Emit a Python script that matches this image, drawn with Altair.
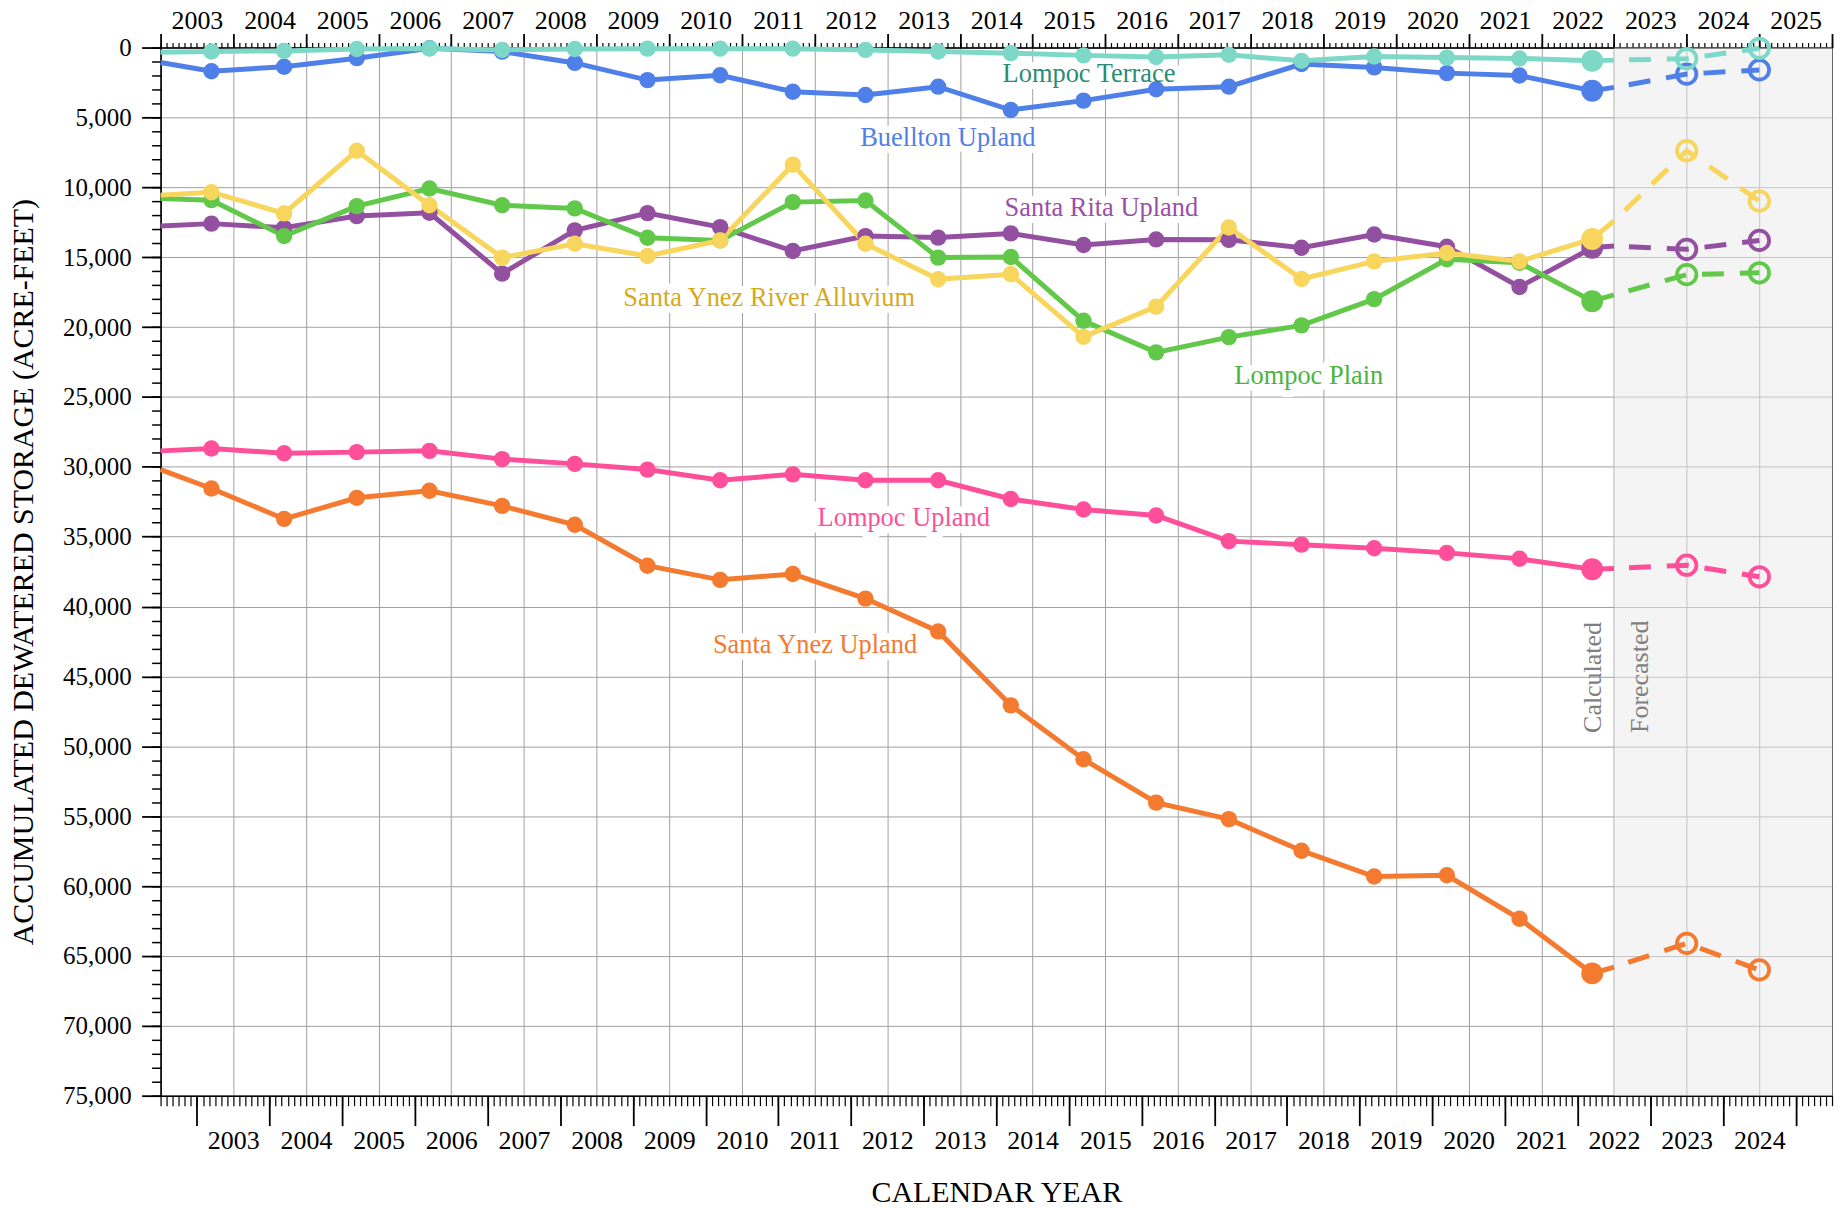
import altair as alt
import pandas as pd

SERIF = "Liberation Serif"

# ---------------- data ----------------
SERIES = ["Santa Ynez Upland", "Lompoc Upland", "Santa Rita Upland", "Lompoc Plain",
          "Santa Ynez River Alluvium", "Buellton Upland", "Lompoc Terrace"]
LINE_COLORS = ["#f47a30", "#ff4f9a", "#9450a0", "#62c84a", "#f8d55c", "#4f7fe8", "#7dd8c8"]
LABEL_COLORS = ["#f47a30", "#ff4f9a", "#9b4fa5", "#4cb43a", "#d4aa1c", "#4f7fe8", "#2a8c72"]

CALC_YEARS = list(range(2003, 2023))
MEASURE_OFFSET = 0.7          # annual values are computed late in each year
PERIOD_START = 2003.0
FORECAST_START = 2023.0
FORECAST_X = [2024.0, 2025.0]
DOMAIN_END = 2026.0

# value where each record line starts (left edge)
START_VALUES = [30200, 28860, 12770, 10800, 10560, 1070, 330]

# calculated accumulated dewatered storage, 2003..2022 (acre-feet)
SANTA_YNEZ_UPLAND = [31550, 33730, 32220, 31710, 32800, 34150, 37080, 38090, 37670, 39430,
                     41780, 47070, 50930, 54030, 55210, 57470, 59320, 59230, 62340, 66250]
LOMPOC_UPLAND = [28690, 29030, 28950, 28860, 29450, 29790, 30200, 30960, 30540, 30960,
                 30960, 32300, 33060, 33480, 35320, 35570, 35830, 36160, 36580, 37330]
SANTA_RITA_UPLAND = [12600, 12900, 12060, 11820, 16180, 13080, 11850, 12850, 14560, 13490,
                     13600, 13300, 14130, 13730, 13760, 14330, 13380, 14250, 17130, 14330]
LOMPOC_PLAIN = [10920, 13490, 11350, 10090, 11280, 11510, 13610, 13800, 11060, 10940,
                15030, 14990, 19550, 21810, 20720, 19880, 18000, 15150, 15400, 18150]
SANTA_YNEZ_RIVER_ALLUVIUM = [10350, 11870, 7380, 11280, 15030, 14040, 14920, 13800, 8380, 14040,
                             16580, 16220, 20700, 18540, 12880, 16560, 15300, 14700, 15300, 13700]
BUELLTON_UPLAND = [1700, 1370, 760, 50, 290, 1100, 2330, 1980, 3160, 3400,
                   2800, 4470, 3800, 2980, 2800, 1180, 1420, 1830, 2000, 3090]
LOMPOC_TERRACE = [280, 240, 100, 60, 170, 100, 80, 80, 80, 170,
                  280, 400, 560, 680, 520, 950, 640, 720, 780, 950]
CALC_VALUES = [SANTA_YNEZ_UPLAND, LOMPOC_UPLAND, SANTA_RITA_UPLAND, LOMPOC_PLAIN,
               SANTA_YNEZ_RIVER_ALLUVIUM, BUELLTON_UPLAND, LOMPOC_TERRACE]

# value at the start of the forecast period
BOUNDARY_VALUES = [65800, 37270, 14200, 17700, 12400, 2850, 900]
# forecasted values (2023, 2024)
FORECAST_VALUES = [[64100, 66000], [37040, 37870], [14440, 13800], [16250, 16120],
                   [7380, 10990], [1900, 1600], [800, 50]]

# series label positions (data units)
LABEL_X = [2012.006, 2013.226, 2015.946, 2018.80, 2011.374, 2013.834, 2015.776]
LABEL_Y = [42780, 33647, 11489, 23513, 17926, 6508, 1870]

NOTE_TEXT = ["Calculated", "Forecasted"]
NOTE_X = [2022.823, 2023.464]
NOTE_Y = [49040, 49040]

Y_MAX = 75000

# ---------------- tables ----------------
solid_rows, pt_rows, last_rows, fl_rows, ring_rows = [], [], [], [], []
for i, s in enumerate(SERIES):
    solid_rows.append({"series": s, "x": PERIOD_START, "v": START_VALUES[i]})
    for yr, v in zip(CALC_YEARS, CALC_VALUES[i]):
        solid_rows.append({"series": s, "x": yr + MEASURE_OFFSET, "v": v})
        if yr == CALC_YEARS[-1]:
            last_rows.append({"series": s, "x": yr + MEASURE_OFFSET, "v": v})
        else:
            pt_rows.append({"series": s, "x": yr + MEASURE_OFFSET, "v": v})
    solid_rows.append({"series": s, "x": FORECAST_START, "v": BOUNDARY_VALUES[i]})
    fl_rows.append({"series": s, "x": FORECAST_START, "v": BOUNDARY_VALUES[i]})
    for fx, fv in zip(FORECAST_X, FORECAST_VALUES[i]):
        fl_rows.append({"series": s, "x": fx, "v": fv})
        ring_rows.append({"series": s, "x": fx, "v": fv})

solid_df = pd.DataFrame(solid_rows)
pt_df = pd.DataFrame(pt_rows)
last_df = pd.DataFrame(last_rows)
fl_df = pd.DataFrame(fl_rows)
ring_df = pd.DataFrame(ring_rows)
lab_df = pd.DataFrame({"label": SERIES, "x": LABEL_X, "y": LABEL_Y, "c": LABEL_COLORS})
note_df = pd.DataFrame({"t": NOTE_TEXT, "x": NOTE_X, "y": NOTE_Y})
shade_df = pd.DataFrame({"a": [FORECAST_START], "b": [DOMAIN_END]})

# ---------------- scales & axes ----------------
xscale = alt.Scale(domain=[PERIOD_START, DOMAIN_END], nice=False, zero=False)
yscale = alt.Scale(domain=[0, Y_MAX], reverse=True, nice=False, zero=False)
color = alt.Color("series:N", scale=alt.Scale(domain=SERIES, range=LINE_COLORS), legend=None)

n_years = int(DOMAIN_END - PERIOD_START)
month_ticks = [PERIOD_START + i / 12 for i in range(n_years * 12 + 1)]
year_ticks = list(range(int(PERIOD_START), int(DOMAIN_END) + 1))

FONT_KW = dict(labelFont=SERIF, titleFont=SERIF, labelColor="black", titleColor="black",
               titleFontWeight="normal", tickColor="black")

ax_bottom_minor = alt.Axis(orient="bottom", values=month_ticks, tickSize=10, tickWidth=1.2,
                           labels=False, domain=False, grid=False, title=None, **FONT_KW)
ax_bottom_major = alt.Axis(orient="bottom", values=[y + 0.5 for y in year_ticks[:-1]],
                           tickSize=30, tickWidth=1.8, labels=False, domain=False,
                           grid=False, title=None, **FONT_KW)
ax_bottom_labels = alt.Axis(orient="bottom", values=year_ticks[1:-1], ticks=False, tickSize=0,
                            labelPadding=32, labelFontSize=26, labelFlush=False,
                            labelOverlap=False, labelExpr="format(datum.value - 1, 'd')",
                            grid=True, domain=True, title="CALENDAR YEAR",
                            titleFontSize=30, titlePadding=24, **FONT_KW)
ax_top_minor = alt.Axis(orient="top", values=month_ticks, tickSize=5, tickWidth=1.2,
                        labels=False, domain=False, grid=False, title=None, **FONT_KW)
ax_top_major = alt.Axis(orient="top", values=year_ticks, tickSize=14, tickWidth=1.8,
                        labelPadding=0, labelOffset=36.4, labelFontSize=26, labelFlush=False,
                        labelOverlap=False,
                        labelExpr="datum.value < %d ? format(datum.value, 'd') : ''" % int(DOMAIN_END),
                        domain=True, grid=False, title=None, **FONT_KW)
ax_left_major = alt.Axis(orient="left", values=list(range(0, Y_MAX + 1, 5000)), format=",d",
                         tickSize=19, tickWidth=1.8, labelPadding=10.5, labelFontSize=25,
                         grid=True, domain=True,
                         title="ACCUMULATED DEWATERED STORAGE (ACRE-FEET)",
                         titleFontSize=30, titlePadding=24, **FONT_KW)
ax_left_minor = alt.Axis(orient="left", values=list(range(0, Y_MAX + 1, 1000)), tickSize=9,
                         tickWidth=1.5, labels=False, domain=False, grid=False, title=None,
                         **FONT_KW)

# ---------------- layers ----------------
shade = alt.Chart(shade_df).mark_rect(color="#e9e9e9", opacity=0.5).encode(
    x=alt.X("a:Q", scale=xscale, axis=ax_bottom_minor), x2="b:Q")

halo = alt.Chart(lab_df).mark_text(font=SERIF, fontSize=26.5, fill="white", stroke="white",
                                   strokeWidth=14, strokeJoin="round").encode(
    x=alt.X("x:Q", scale=xscale, axis=ax_top_minor),
    y=alt.Y("y:Q", scale=yscale, axis=ax_left_minor),
    text="label:N")

solid = alt.Chart(solid_df).mark_line(strokeWidth=5).encode(
    x=alt.X("x:Q", scale=xscale, axis=ax_bottom_labels),
    y=alt.Y("v:Q", scale=yscale, axis=ax_left_major),
    color=color)

dashed = alt.Chart(fl_df).mark_line(strokeWidth=5, strokeDash=[22, 16], strokeDashOffset=23).encode(
    x=alt.X("x:Q", scale=xscale, axis=ax_bottom_major),
    y=alt.Y("v:Q", scale=yscale, axis=None),
    color=color)

pts = alt.Chart(pt_df).mark_circle(size=270, opacity=1).encode(
    x=alt.X("x:Q", scale=xscale, axis=ax_top_major),
    y=alt.Y("v:Q", scale=yscale, axis=None),
    color=color)

last_pts = alt.Chart(last_df).mark_circle(size=480, opacity=1).encode(
    x=alt.X("x:Q", scale=xscale, axis=None),
    y=alt.Y("v:Q", scale=yscale, axis=None),
    color=color)

rings = alt.Chart(ring_df).mark_point(shape="circle", filled=False, size=380, strokeWidth=3.8,
                                      opacity=1).encode(
    x=alt.X("x:Q", scale=xscale, axis=None),
    y=alt.Y("v:Q", scale=yscale, axis=None),
    color=color)

labels = alt.Chart(lab_df).mark_text(font=SERIF, fontSize=26.5).encode(
    x=alt.X("x:Q", scale=xscale, axis=None),
    y=alt.Y("y:Q", scale=yscale, axis=None),
    text="label:N",
    color=alt.Color("c:N", scale=None))

notes = alt.Chart(note_df).mark_text(font=SERIF, fontSize=26, angle=270, align="left",
                                     baseline="alphabetic", color="#7f7f7f").encode(
    x=alt.X("x:Q", scale=xscale, axis=None),
    y=alt.Y("y:Q", scale=yscale, axis=None),
    text="t:N")

chart = alt.layer(shade, halo, solid, dashed, pts, last_pts, rings, labels, notes).resolve_axis(
    x="independent", y="independent"
).properties(
    width=1676, height=1051,
    autosize=alt.AutoSizeParams(type="none"),
    padding={"left": 153, "top": 38, "right": 4, "bottom": 120},
    background="white",
).configure_axis(
    labelFont=SERIF, titleFont=SERIF, labelColor="black", titleColor="black",
    tickColor="black", domainColor="black", domainWidth=1.6, gridColor="#a0a0a0",
    gridWidth=1, titleFontWeight="normal",
).configure_text(font=SERIF).configure_view(stroke="#666666", strokeWidth=1)

chart.save("out.html", embed_options={"renderer": "svg", "actions": False})
